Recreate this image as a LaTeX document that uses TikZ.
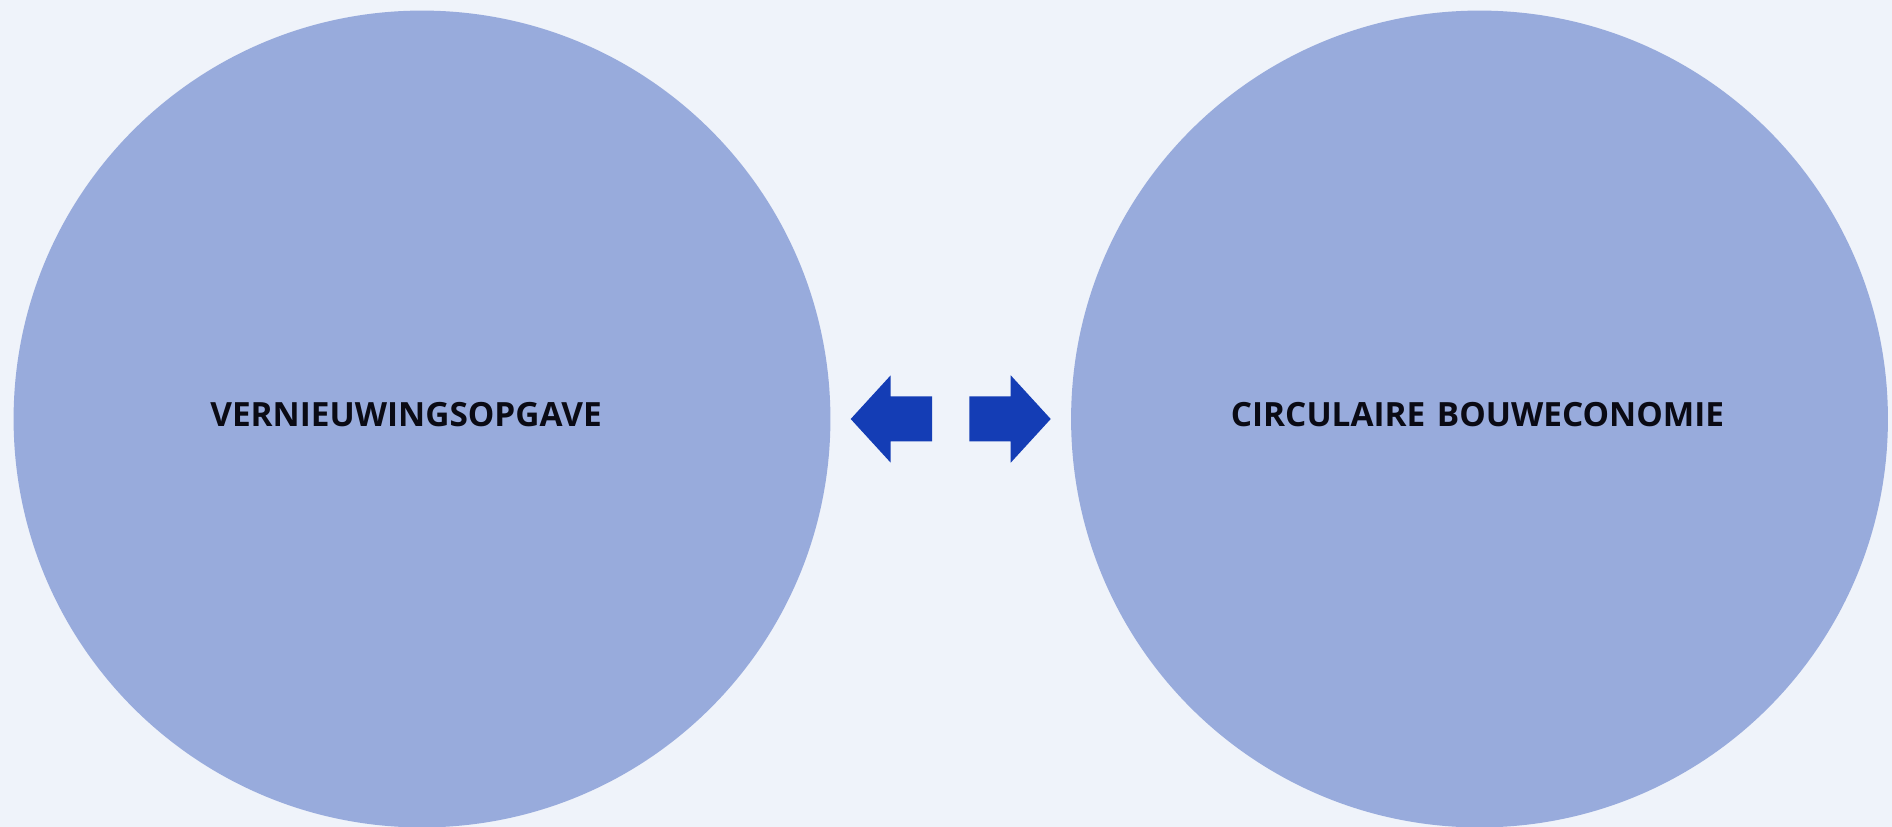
\documentclass[tikz,border=0pt]{standalone}
\usepackage{fontspec}
\setmainfont{Open Sans}
\definecolor{bgc}{HTML}{EFF3FA}
\definecolor{circc}{HTML}{98ABDC}
\definecolor{arrc}{HTML}{143DB5}
\definecolor{txtc}{HTML}{0A0A14}
\begin{document}
\begin{tikzpicture}[x=0.02cm,y=-0.02cm,
  bigcircle/.style={circle,fill=circc,inner sep=0pt,minimum size=16.34cm},
  label text/.style={font=\fontsize{19}{23}\selectfont\bfseries,text=txtc,inner sep=0pt},
  arrowshape/.style={fill=arrc}]
\useasboundingbox (0,0) rectangle (1892,827);
\fill[bgc] (0,0) rectangle (1892,827);
\clip (0,0) rectangle (1892,827);
\node[bigcircle] (left) at (422,419) {};
\node[bigcircle] (right) at (1479.5,419) {};
\node[label text] (ltxt) at (406,415) {VERNIEUWINGSOPGAVE};
\node[label text] (rtxt) at (1477.5,415) {CIRCULAIRE\hspace{6.5pt}BOUWECONOMIE};
\fill[arrowshape] (850.7,419) -- (890.7,375.3) -- (890.7,396.3) -- (932,396.3) -- (932,441.3) -- (890.7,441.3) -- (890.7,462.7) -- cycle;
\fill[arrowshape] (969.3,396.3) -- (1010.7,396.3) -- (1010.7,375.3) -- (1050.7,419) -- (1010.7,462.7) -- (1010.7,441.3) -- (969.3,441.3) -- cycle;
\end{tikzpicture}
\end{document}
